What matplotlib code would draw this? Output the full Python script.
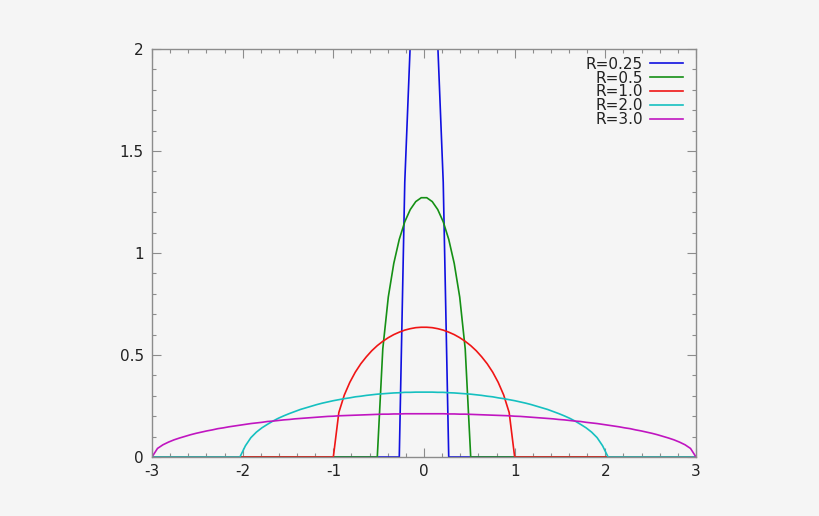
import matplotlib
matplotlib.use("Agg")
import matplotlib.pyplot as plt
from matplotlib.ticker import MultipleLocator, FuncFormatter

plt.rcParams['font.family'] = ['DejaVu Sans']
plt.rcParams['axes.unicode_minus'] = False

# sample positions (x)
x_vals = [
    -3.0000, -2.9394, -2.8788, -2.8182, -2.7576, -2.6970, -2.6364, -2.5758, -2.5152, -2.4545,
    -2.3939, -2.3333, -2.2727, -2.2121, -2.1515, -2.0909, -2.0303, -1.9697, -1.9091, -1.8485,
    -1.7879, -1.7273, -1.6667, -1.6061, -1.5455, -1.4848, -1.4242, -1.3636, -1.3030, -1.2424,
    -1.1818, -1.1212, -1.0606, -1.0000, -0.9394, -0.8788, -0.8182, -0.7576, -0.6970, -0.6364,
    -0.5758, -0.5152, -0.4545, -0.3939, -0.3333, -0.2727, -0.2121, -0.1515, -0.0909, -0.0303,
    0.0303, 0.0909, 0.1515, 0.2121, 0.2727, 0.3333, 0.3939, 0.4545, 0.5152, 0.5758,
    0.6364, 0.6970, 0.7576, 0.8182, 0.8788, 0.9394, 1.0000, 1.0606, 1.1212, 1.1818,
    1.2424, 1.3030, 1.3636, 1.4242, 1.4848, 1.5455, 1.6061, 1.6667, 1.7273, 1.7879,
    1.8485, 1.9091, 1.9697, 2.0303, 2.0909, 2.1515, 2.2121, 2.2727, 2.3333, 2.3939,
    2.4545, 2.5152, 2.5758, 2.6364, 2.6970, 2.7576, 2.8182, 2.8788, 2.9394, 3.0000,
]

y_r025 = [
    0, 0, 0, 0, 0, 0, 0, 0, 0, 0,
    0, 0, 0, 0, 0, 0, 0, 0, 0, 0,
    0, 0, 0, 0, 0, 0, 0, 0, 0, 0,
    0, 0, 0, 0, 0, 0, 0, 0, 0, 0,
    0, 0, 0, 0, 0, 0, 1.347, 2.025, 2.372, 2.528,
    2.528, 2.372, 2.025, 1.347, 0, 0, 0, 0, 0, 0,
    0, 0, 0, 0, 0, 0, 0, 0, 0, 0,
    0, 0, 0, 0, 0, 0, 0, 0, 0, 0,
    0, 0, 0, 0, 0, 0, 0, 0, 0, 0,
    0, 0, 0, 0, 0, 0, 0, 0, 0, 0,
]

y_r05 = [
    0, 0, 0, 0, 0, 0, 0, 0, 0, 0,
    0, 0, 0, 0, 0, 0, 0, 0, 0, 0,
    0, 0, 0, 0, 0, 0, 0, 0, 0, 0,
    0, 0, 0, 0, 0, 0, 0, 0, 0, 0,
    0, 0, 0.530, 0.784, 0.949, 1.067, 1.153, 1.213, 1.252, 1.271,
    1.271, 1.252, 1.213, 1.153, 1.067, 0.949, 0.784, 0.530, 0, 0,
    0, 0, 0, 0, 0, 0, 0, 0, 0, 0,
    0, 0, 0, 0, 0, 0, 0, 0, 0, 0,
    0, 0, 0, 0, 0, 0, 0, 0, 0, 0,
    0, 0, 0, 0, 0, 0, 0, 0, 0, 0,
]

y_r1 = [
    0, 0, 0, 0, 0, 0, 0, 0, 0, 0,
    0, 0, 0, 0, 0, 0, 0, 0, 0, 0,
    0, 0, 0, 0, 0, 0, 0, 0, 0, 0,
    0, 0, 0, 0, 0.218, 0.304, 0.366, 0.416, 0.457, 0.491,
    0.521, 0.546, 0.567, 0.585, 0.600, 0.612, 0.622, 0.629, 0.634, 0.636,
    0.636, 0.634, 0.629, 0.622, 0.612, 0.600, 0.585, 0.567, 0.546, 0.521,
    0.491, 0.457, 0.416, 0.366, 0.304, 0.218, 0, 0, 0, 0,
    0, 0, 0, 0, 0, 0, 0, 0, 0, 0,
    0, 0, 0, 0, 0, 0, 0, 0, 0, 0,
    0, 0, 0, 0, 0, 0, 0, 0, 0, 0,
]

y_r2 = [
    0, 0, 0, 0, 0, 0, 0, 0, 0, 0,
    0, 0, 0, 0, 0, 0, 0, 0.055, 0.095, 0.122,
    0.143, 0.160, 0.176, 0.190, 0.202, 0.213, 0.223, 0.233, 0.241, 0.249,
    0.257, 0.264, 0.270, 0.276, 0.281, 0.286, 0.290, 0.295, 0.298, 0.302,
    0.305, 0.308, 0.310, 0.312, 0.314, 0.315, 0.317, 0.317, 0.318, 0.318,
    0.318, 0.318, 0.317, 0.317, 0.315, 0.314, 0.312, 0.310, 0.308, 0.305,
    0.302, 0.298, 0.295, 0.290, 0.286, 0.281, 0.276, 0.270, 0.264, 0.257,
    0.249, 0.241, 0.233, 0.223, 0.213, 0.202, 0.190, 0.176, 0.160, 0.143,
    0.122, 0.095, 0.055, 0, 0, 0, 0, 0, 0, 0,
    0, 0, 0, 0, 0, 0, 0, 0, 0, 0,
]

y_r3 = [
    0.000, 0.042, 0.060, 0.073, 0.084, 0.093, 0.101, 0.109, 0.116, 0.122,
    0.128, 0.133, 0.139, 0.143, 0.148, 0.152, 0.156, 0.160, 0.164, 0.167,
    0.170, 0.174, 0.176, 0.179, 0.182, 0.184, 0.187, 0.189, 0.191, 0.193,
    0.195, 0.197, 0.199, 0.200, 0.202, 0.203, 0.204, 0.205, 0.206, 0.207,
    0.208, 0.209, 0.210, 0.210, 0.211, 0.211, 0.212, 0.212, 0.212, 0.212,
    0.212, 0.212, 0.212, 0.212, 0.211, 0.211, 0.210, 0.210, 0.209, 0.208,
    0.207, 0.206, 0.205, 0.204, 0.203, 0.202, 0.200, 0.199, 0.197, 0.195,
    0.193, 0.191, 0.189, 0.187, 0.184, 0.182, 0.179, 0.176, 0.174, 0.170,
    0.167, 0.164, 0.160, 0.156, 0.152, 0.148, 0.143, 0.139, 0.133, 0.128,
    0.122, 0.116, 0.109, 0.101, 0.093, 0.084, 0.073, 0.060, 0.042, 0.000,
]

series_labels = ["R=0.25", "R=0.5", "R=1.0", "R=2.0", "R=3.0"]
series_values = [y_r025, y_r05, y_r1, y_r2, y_r3]
series_colors = ["#1010e0", "#159015", "#f01515", "#15c0c0", "#c015c0"]

bg = "#f5f5f5"
axis_grey = "#8c8c8c"

fig = plt.figure(figsize=(8.2, 5.16), dpi=100, facecolor=bg)
ax = fig.add_axes([152 / 820, 1 - 457 / 516, (696 - 152) / 820, (457 - 49) / 516])
ax.set_facecolor(bg)

for lab, vals, col in zip(series_labels, series_values, series_colors):
    ax.plot(x_vals, vals, color=col, lw=1.2, label=lab, solid_joinstyle='miter')

ax.set_xlim(-3, 3)
ax.set_ylim(0, 2)

ax.xaxis.set_major_locator(MultipleLocator(1))
ax.xaxis.set_minor_locator(MultipleLocator(0.2))
ax.yaxis.set_major_locator(MultipleLocator(0.5))
ax.yaxis.set_minor_locator(MultipleLocator(0.1))
fmt = FuncFormatter(lambda v, p: "%g" % v)
ax.xaxis.set_major_formatter(fmt)
ax.yaxis.set_major_formatter(fmt)

ax.tick_params(which='both', direction='in', top=True, right=True,
               color=axis_grey, width=0.8, labelsize=11, labelcolor='#222222')
ax.tick_params(which='major', length=6.5)
ax.tick_params(which='minor', length=3)
ax.tick_params(axis='x', pad=5)
ax.tick_params(axis='y', pad=6)

for sp in ax.spines.values():
    sp.set_color(axis_grey)
    sp.set_linewidth(1.0)

leg = ax.legend(loc='upper right', bbox_to_anchor=(0.976, 0.981), frameon=False,
                markerfirst=False, fontsize=11, handlelength=2.16,
                handletextpad=0.46, labelspacing=-0.08, borderpad=0,
                borderaxespad=0)
for t in leg.get_texts():
    t.set_color('#222222')

fig.savefig("out.png", dpi=100, facecolor=bg)
